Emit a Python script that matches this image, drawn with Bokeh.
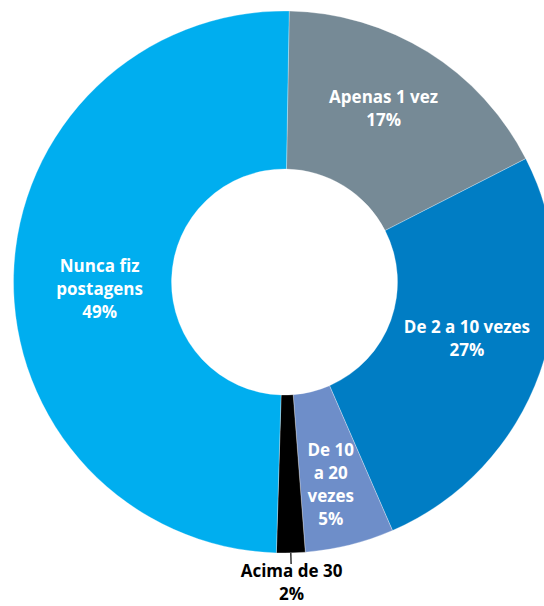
import math
from bokeh.plotting import figure
from bokeh.models import Range1d, ColumnDataSource
from bokeh.core.properties import value
from bokeh.embed import file_html
from bokeh.resources import INLINE

# data
categories = ["Apenas 1 vez", "De 2 a 10 vezes", "De 10 a 20 vezes", "Acima de 30", "Nunca fiz postagens"]
shares = [17.2, 26.0, 5.3, 1.7, 49.8]
labels = ["Apenas 1 vez\n17%", "De 2 a 10 vezes\n27%", "De 10\na 20\nvezes\n5%", "Acima de 30\n2%", "Nunca fiz\npostagens\n49%"]
colors = ["#768A96", "#007DC4", "#6E8EC9", "#000000", "#00AEEF"]

# layout/style
start_offset = 1.0       # degrees clockwise from 12 o'clock
R_OUT, R_IN = 271, 113
label_ang = [29.7, 107.2, 167.1, None, 268.0]   # None -> slice middle
label_r = [200, 191, 207, 300, 185]
label_color = ["white", "white", "white", "black", "white"]

total = sum(shares)
cw = [start_offset]
for s in shares:
    cw.append(cw[-1] + s / total * 360.0)

starts = [math.radians(90 - cw[i + 1]) for i in range(len(shares))]
ends = [math.radians(90 - cw[i]) for i in range(len(shares))]
mids = [(cw[i] + cw[i + 1]) / 2 for i in range(len(shares))]

src = ColumnDataSource(dict(start=starts, end=ends, color=colors, cat=categories))

p = figure(width=544, height=606, output_backend="svg", toolbar_location=None,
           x_range=Range1d(-284, 260), y_range=Range1d(-324.5, 281.5),
           min_border=0)
p.axis.visible = False
p.grid.visible = False
p.outline_line_color = None
p.background_fill_color = "white"

p.annular_wedge(x=0, y=0, inner_radius=R_IN, outer_radius=R_OUT,
                start_angle="start", end_angle="end", color="color",
                line_color="white", line_width=0.3, source=src)

angs = [a if a is not None else m for a, m in zip(label_ang, mids)]
lx = [r * math.sin(math.radians(a)) for r, a in zip(label_r, angs)]
ly = [r * math.cos(math.radians(a)) for r, a in zip(label_r, angs)]
lsrc = ColumnDataSource(dict(x=lx, y=ly, text=labels, c=label_color))
p.text(x="x", y="y", text="text", source=lsrc, text_color="c",
       text_font=value("Open Sans"), text_font_style="bold", text_font_size="17px",
       text_align="center", text_baseline="middle", text_line_height=1.0)

# leader line for the small slice
i = 3
m = math.radians(mids[i])
p.line(x=[R_OUT * math.sin(m), (R_OUT + 11) * math.sin(m)],
       y=[R_OUT * math.cos(m), (R_OUT + 11) * math.cos(m)],
       line_color="black", line_width=1.2)

open("out.html", "w").write(file_html(p, INLINE))
